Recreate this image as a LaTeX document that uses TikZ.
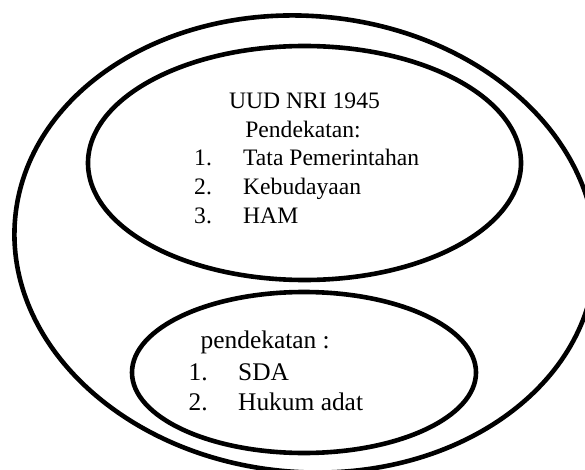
\documentclass[tikz,border=0pt]{standalone}
\usepackage{fontspec}
\setmainfont{Liberation Serif}
\usetikzlibrary{shapes.geometric}
\begin{document}
\begin{tikzpicture}[x=1pt,y=-1pt,
  ring/.style={draw=black, line width=4.6pt, ellipse, inner sep=0pt, outer sep=0pt},
  toptext/.style={inner sep=0pt, anchor=base west, font=\fontsize{23.6}{28}\selectfont},
  bottext/.style={inner sep=0pt, anchor=base west, font=\fontsize{25.4}{30}\selectfont}]
\useasboundingbox (0,0) rectangle (585,470);
\clip (0,0) rectangle (585,470);
% ellipses
\node[ring, minimum width=582pt, minimum height=456pt, rotate=-5] (outer) at (305,244) {};
\node[ring, minimum width=433pt, minimum height=234pt] (upper) at (304.5,163) {};
\node[ring, minimum width=344pt, minimum height=161pt] (lower) at (304,372.5) {};
% upper text
\node[toptext, anchor=base] (t1) at (304.5,109) {UUD NRI 1945};
\node[toptext, anchor=base] (t2) at (303,137.5) {Pendekatan:};
\node[toptext] (n1) at (194,166) {1.};
\node[toptext] (i1) at (243,166) {Tata Pemerintahan};
\node[toptext] (n2) at (194,194.5) {2.};
\node[toptext] (i2) at (243,194.5) {Kebudayaan};
\node[toptext] (n3) at (194,223) {3.};
\node[toptext] (i3) at (243,223) {HAM};
% lower text
\node[bottext] (b0) at (200.5,348) {pendekatan :};
\node[bottext] (m1) at (188.5,380) {1.};
\node[bottext] (j1) at (238,380) {SDA};
\node[bottext] (m2) at (188.5,410) {2.};
\node[bottext] (j2) at (238,410) {Hukum adat};
\end{tikzpicture}
\end{document}
